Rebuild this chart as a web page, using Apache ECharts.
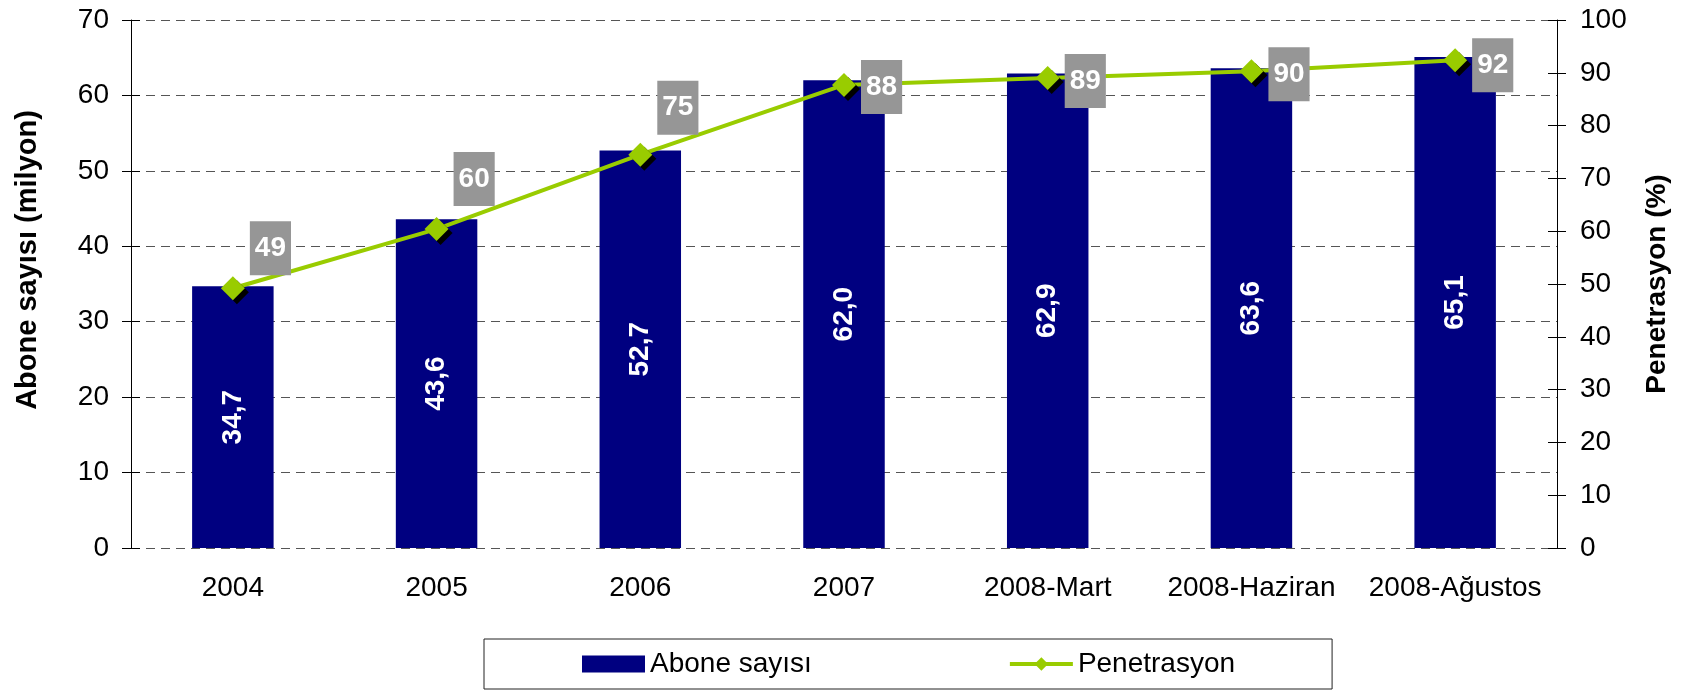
<!DOCTYPE html>
<html>
<head>
<meta charset="utf-8">
<script src="https://cdn.jsdelivr.net/npm/echarts@6/dist/echarts.min.js"></script>
<style>
html,body{margin:0;padding:0;background:#fff;}
#chart{width:1684px;height:691px;}
</style>
</head>
<body>
<div id="chart"></div>
<script>
var categories = ['2004', '2005', '2006', '2007', '2008-Mart', '2008-Haziran', '2008-Ağustos'];
var aboneSayisi = [34.7, 43.6, 52.7, 62.0, 62.9, 63.6, 65.1];
var penetrasyon = [49.2, 60.4, 74.5, 87.7, 89.0, 90.3, 92.4];
var leftTicks = {min: 0, max: 70, interval: 10};
var rightTicks = {min: 0, max: 100, interval: 10};

var font = "'Liberation Sans', Arial, sans-serif";
// label nudges, the first three sit above-right of the point
var labelDy = [-40, -50, -47, 2, 3, 3, 5];

option = {
    backgroundColor: '#fff',
    textStyle: {fontFamily: font},
    grid: {
        left: 131,
        right: 127,
        top: 20,
        bottom: 143
    },
    legend: {
        left: 484,
        top: 639,
        padding: [11, 97, 11, 98],
        itemGap: 196,
        itemWidth: 63,
        itemHeight: 17,
        borderColor: '#222',
        borderWidth: 1,
        textStyle: {fontSize: 28, color: '#000', fontFamily: font},
        data: [
            {name: 'Abone sayısı', icon: 'rect'},
            {name: 'Penetrasyon', lineStyle: {width: 4, color: '#99CC00'}}
        ]
    },
    xAxis: {
        type: 'category',
        data: categories,
        axisLine: {show: false},
        axisTick: {show: false},
        axisLabel: {
            fontSize: 28,
            color: '#000',
            margin: 26,
            interval: 0
        }
    },
    yAxis: [{
        type: 'value',
        position: 'left',
        min: leftTicks.min,
        max: leftTicks.max,
        interval: leftTicks.interval,
        name: 'Abone sayısı (milyon)',
        nameLocation: 'middle',
        nameRotate: 90,
        nameGap: 89,
        nameTextStyle: {
            fontSize: 29,
            fontWeight: 'bold',
            color: '#000',
            padding: [0, 0, 0, 48]
        },
        axisLine: {show: true, lineStyle: {color: '#000', width: 1}},
        axisTick: {show: true, length: 9, lineStyle: {color: '#000'}},
        axisLabel: {fontSize: 28, color: '#000', margin: 22},
        splitLine: {
            show: true,
            lineStyle: {color: '#555', type: [9, 6], width: 1}
        }
    }, {
        type: 'value',
        position: 'right',
        min: rightTicks.min,
        max: rightTicks.max,
        interval: rightTicks.interval,
        name: 'Penetrasyon (%)',
        nameLocation: 'middle',
        nameRotate: 90,
        nameGap: 86,
        nameTextStyle: {
            fontSize: 28,
            fontWeight: 'bold',
            color: '#000'
        },
        axisLine: {show: true, lineStyle: {color: '#000', width: 1}},
        axisTick: {show: true, length: 9, lineStyle: {color: '#000'}},
        axisLabel: {fontSize: 28, color: '#000', margin: 23},
        splitLine: {show: false}
    }, {
        // inner half of the crossing ticks, left
        type: 'value',
        position: 'left',
        min: leftTicks.min,
        max: leftTicks.max,
        interval: leftTicks.interval,
        axisLine: {show: false},
        axisTick: {show: true, inside: true, length: 9, lineStyle: {color: '#000'}},
        axisLabel: {show: false},
        splitLine: {show: false}
    }, {
        // inner half of the crossing ticks, right
        type: 'value',
        position: 'right',
        min: rightTicks.min,
        max: rightTicks.max,
        interval: rightTicks.interval,
        axisLine: {show: false},
        axisTick: {show: true, inside: true, length: 9, lineStyle: {color: '#000'}},
        axisLabel: {show: false},
        splitLine: {show: false}
    }],
    series: [{
        name: 'Abone sayısı',
        type: 'bar',
        yAxisIndex: 0,
        barWidth: '40%',
        data: aboneSayisi,
        itemStyle: {color: '#000080'},
        label: {
            show: true,
            position: 'inside',
            rotate: 90,
            fontSize: 28,
            fontWeight: 'bold',
            color: '#fff',
            formatter: function (p) {
                return p.value.toFixed(1).replace('.', ',');
            }
        }
    }, {
        name: 'Penetrasyon',
        type: 'line',
        yAxisIndex: 1,
        symbol: 'diamond',
        symbolSize: 24,
        data: penetrasyon.map(function (v, i) {
            return {value: v, label: {offset: [0, labelDy[i]]}};
        }),
        lineStyle: {color: '#99CC00', width: 4},
        itemStyle: {
            color: '#99CC00',
            shadowColor: '#000',
            shadowBlur: 0,
            shadowOffsetX: 4,
            shadowOffsetY: 4
        },
        label: {
            show: true,
            position: 'right',
            distance: 5,
            fontSize: 28,
            lineHeight: 28,
            fontWeight: 'bold',
            color: '#fff',
            backgroundColor: '#969696',
            padding: [13, 5, 13, 5],
            formatter: function (p) {
                return Math.round(p.value);
            }
        }
    }]
};
var chart = echarts.init(document.getElementById('chart'));
chart.setOption(option);
</script>
</body>
</html>
